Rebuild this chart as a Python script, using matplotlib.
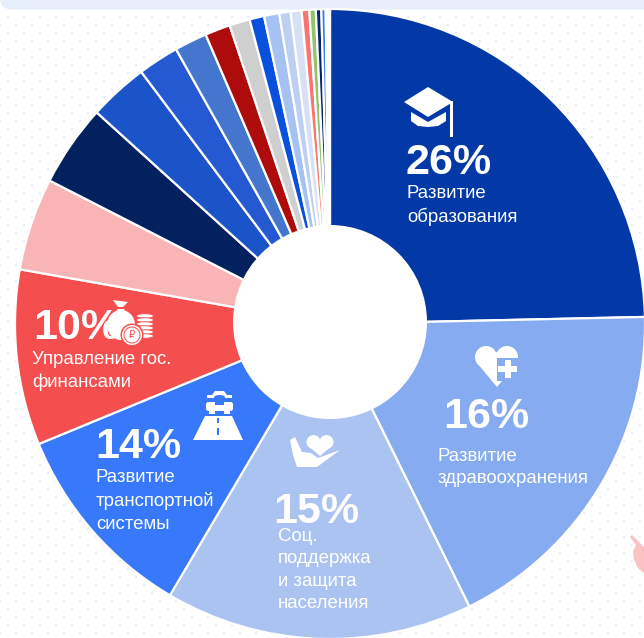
import numpy as np
import matplotlib
matplotlib.use('Agg')
import matplotlib.pyplot as plt
from matplotlib.patches import Circle, Polygon, Rectangle, FancyBboxPatch, Ellipse

# доли секторов, считаны по углам на картинке (подписи не всегда совпадают с геометрией)
shares = [24.65, 18.07, 15.78, 10.3, 9.0, 4.75, 4.2, 3.05, 2.1, 1.67, 1.3, 1.05, 0.75,
          0.78, 0.58, 0.56, 0.39, 0.33, 0.28, 0.22, 0.11, 0.11]
colors = ['#0339A6', '#87ABF0', '#ABC3F0', '#3878FA', '#F44E4E', '#F9B4B6', '#03215F',
          '#1A54C8', '#2459D1', '#4476CE', '#AE0C0C', '#CFCFCF', '#0A50DE', '#A6C2F2',
          '#BDD0F4', '#D7E0F5', '#FA7470', '#92C46E', '#03246E', '#3D7BE6', '#D8E4F8', '#3D7BE6']

percents = ['26%', '16%', '15%', '14%', '10%']
names = ['Развитие\nобразования', 'Развитие\nздравоохранения',
         'Соц.\nподдержка\nи защита\nнаселения', 'Развитие\nтранспортной\nсистемы',
         'Управление гос.\nфинансами']
percent_xy = [(406, 173.5), (443, 427.5), (273, 523), (95, 458), (33, 339)]
name_xy = [(407, 184.5), (438, 448), (278, 528), (96, 469.5), (32, 351)]

plt.rcParams['font.family'] = ['Liberation Sans', 'DejaVu Sans']

fig = plt.figure(figsize=(6.44, 6.38), dpi=100)
ax = fig.add_axes([0, 0, 1, 1])

# ось в пикселях картинки, y вниз, поэтому сектора идут по часовой
ax.pie(shares, colors=colors, center=(330, 324), radius=315, startangle=-90,
       wedgeprops=dict(edgecolor='white', linewidth=1.6))
ax.set_xlim(0, 644)
ax.set_ylim(638, 0)
ax.axis('off')

# точки на фоне, шахматная сетка
for shift, y0 in [(8, 17), (0, 25)]:
    dx, dy = np.meshgrid(np.arange(shift, 644, 16), np.arange(y0, 638, 16))
    ax.scatter(dx.ravel(), dy.ravel(), s=2.2, marker='s', color='#E6EDFA', linewidths=0, zorder=0)

# полоса сверху
ax.add_patch(FancyBboxPatch((0, -30), 700, 39.5, boxstyle='round,pad=0,rounding_size=12',
                            fc='#E7EEFB', ec='none', zorder=0.5))
ax.add_patch(Circle((330, 322), 97, fc='white', ec='none', zorder=3))

# кусок розовой руки справа внизу
ax.add_patch(Polygon([(630, 537), (632, 535), (644, 547), (644, 573), (638, 568), (634, 560), (633, 551), (636, 545)],
                     fc='#FBC2C4', ec='none', zorder=0.6))

w = 'white'
# шапочка
ax.add_patch(Polygon([(428, 87), (404, 102), (428, 117), (453, 102)], fc=w, ec='none', zorder=4))
ax.add_patch(Polygon([(411, 112), (428, 122), (446, 112), (446, 121), (438, 126), (428, 127), (418, 126), (411, 121)],
                     fc=w, ec='none', zorder=4))
ax.add_patch(Rectangle((450.5, 101), 3, 36, fc=w, ec='none', zorder=4))

# сердце с крестом
ax.add_patch(Circle((486, 357), 11, fc=w, ec='none', zorder=4))
ax.add_patch(Circle((507, 357), 11, fc=w, ec='none', zorder=4))
ax.add_patch(Polygon([(477, 363), (497, 387), (517, 363), (496, 352)], fc=w, ec='none', zorder=4))
ax.add_patch(Rectangle((497, 358), 23, 23, fc='#87ABF0', ec='none', zorder=4.1))
ax.add_patch(Rectangle((505, 360), 6, 18, fc=w, ec='none', zorder=4.2))
ax.add_patch(Rectangle((498, 366), 19, 6, fc=w, ec='none', zorder=4.2))

# рука с сердцем
ax.add_patch(Circle((313.5, 442), 7, fc=w, ec='none', zorder=4))
ax.add_patch(Circle((326.5, 442), 7, fc=w, ec='none', zorder=4))
ax.add_patch(Polygon([(307, 445), (320, 456), (333, 445)], fc=w, ec='none', zorder=4))
ax.add_patch(Polygon([(290, 440), (295, 437), (302, 452), (311, 453), (318, 458), (340, 450),
                      (317, 467), (297, 467), (293, 455)], fc=w, ec='none', zorder=4))

# дорога и машина
ax.add_patch(Polygon([(205, 416), (232, 416), (243, 440), (193, 440)], fc=w, ec='none', zorder=4))
ax.add_patch(Rectangle((217, 418), 2.5, 5, fc='#3878FA', ec='none', zorder=4.1))
ax.add_patch(Rectangle((217, 428), 2.5, 7, fc='#3878FA', ec='none', zorder=4.1))
ax.add_patch(Polygon([(207, 398), (207, 395), (212, 395), (215, 391), (224, 391), (227, 395), (232, 395), (232, 398)],
                     fc=w, ec='none', zorder=4.2))
ax.add_patch(Ellipse((219.5, 397.5), 11, 5, fc='#3878FA', ec='none', zorder=4.3))
ax.add_patch(FancyBboxPatch((206, 402), 27, 9, boxstyle='round,pad=0,rounding_size=2.5',
                            fc=w, ec='none', zorder=4.2))
ax.add_patch(Rectangle((209, 410), 6, 3.5, fc=w, ec='none', zorder=4.2))
ax.add_patch(Rectangle((224, 410), 6, 3.5, fc=w, ec='none', zorder=4.2))
ax.add_patch(Rectangle((215, 402), 9, 3, fc='#3878FA', ec='none', zorder=4.3))

# мешок и монеты
ax.add_patch(Ellipse((121, 325), 28, 30, fc=w, ec='none', zorder=4))
ax.add_patch(Polygon([(113, 300), (128, 302), (123, 307), (118, 307)], fc=w, ec='none', zorder=4))
ax.add_patch(Polygon([(117.5, 309), (124, 309), (133, 325), (109, 325)], fc=w, ec='none', zorder=4))
for y in np.arange(316, 338, 4):
    ax.add_patch(Ellipse((145, y), 17, 4.5, fc=w, ec='#F44E4E', lw=0.6, zorder=4))
ax.add_patch(Circle((132, 335), 11.5, fc='#F44E4E', ec='none', zorder=4.1))
ax.add_patch(Circle((132, 335), 10, fc=w, ec='none', zorder=4.2))
ax.add_patch(Circle((132, 335), 8, fc='none', ec='#F44E4E', lw=0.7, zorder=4.25))
ax.text(132, 335, '₽', color='#F44E4E', fontsize=7, ha='center', va='center', zorder=4.3)

for p, xy in zip(percents, percent_xy):
    ax.text(xy[0], xy[1], p, color='white', fontsize=31, fontweight='bold',
            ha='left', va='baseline', zorder=5)
for n, xy in zip(names, name_xy):
    ax.text(xy[0], xy[1], n, color='white', fontsize=13.4, ha='left', va='top',
            linespacing=1.42, zorder=5)

fig.savefig('out.png', dpi=100)
